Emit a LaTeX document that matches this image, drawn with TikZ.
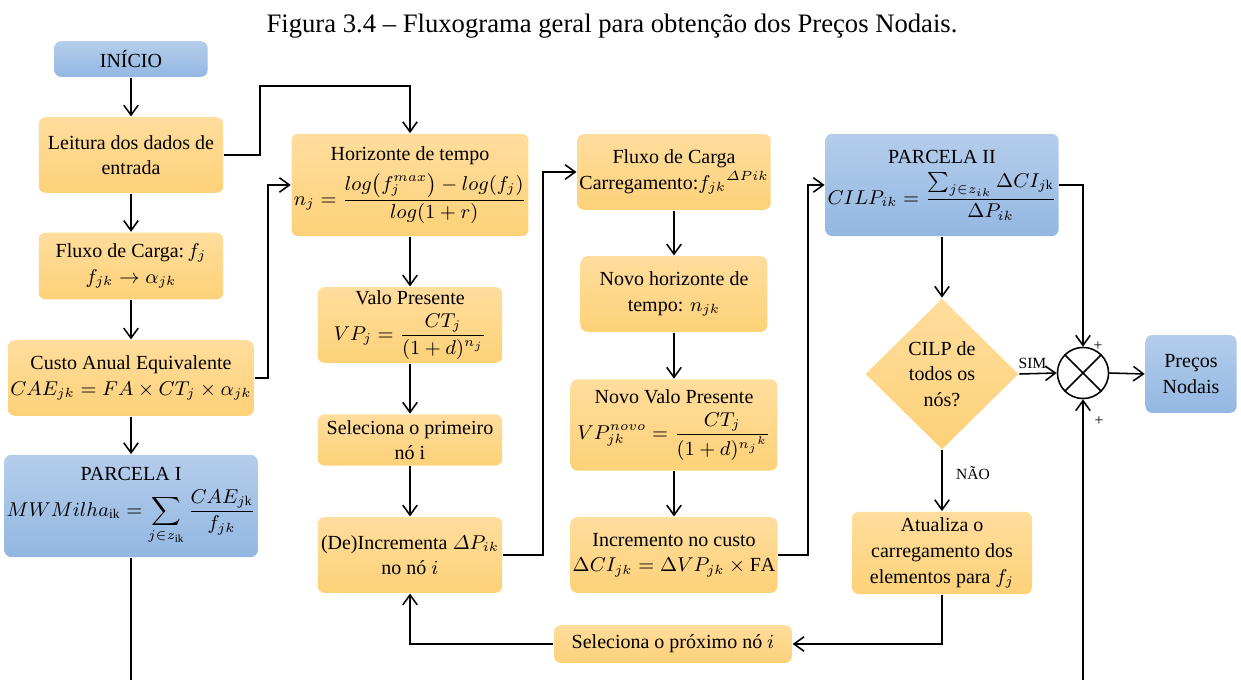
\documentclass[tikz,border=0pt]{standalone}
\usepackage{amsmath}
\usepackage{fontspec}
\setmainfont{Liberation Serif}
\usetikzlibrary{arrows.meta,shapes.geometric}
\definecolor{goldTop}{RGB}{255,221,157}
\definecolor{goldBot}{RGB}{253,209,120}
\definecolor{blueTop}{RGB}{181,205,235}
\definecolor{blueBot}{RGB}{147,183,226}

\begin{document}
\begin{tikzpicture}[x=0.45pt,y=-0.45pt,line width=0.7pt,
    arr/.style={-{Straight Barb[length=4.5pt,width=6.5pt]}},
    goldbox/.style={rounded corners=3pt,top color=goldTop,bottom color=goldBot,
        align=center,inner sep=1pt,font=\fontsize{9}{11.5}\selectfont},
    bluebox/.style={goldbox,top color=blueTop,bottom color=blueBot},
    decision/.style={diamond,shape aspect=1,inner sep=0pt,top color=goldTop,
        bottom color=goldBot,align=center,font=\fontsize{9}{11.5}\selectfont},
    tiny/.style={font=\fontsize{7}{8}\selectfont,inner sep=1pt}]

    \useasboundingbox (0,0) rectangle (1241,680);

    \node (title) at (612,26) {\fontsize{12}{14}\selectfont Figura 3.4 – Fluxograma geral para obtenção dos Preços Nodais.};

    % first column
    \node[bluebox,minimum width=69pt,minimum height=16pt] (start) at (131,59) {INÍCIO};
    \node[goldbox,minimum width=83pt,minimum height=34pt] (read) at (131,155) {Leitura dos dados de\\entrada};
    \node[goldbox,minimum width=83pt,minimum height=30pt] (flow1) at (131,266) {Fluxo de Carga:\,$f_j$\\$f_{jk}\rightarrow\alpha_{jk}$};
    \node[goldbox,minimum width=97pt,minimum height=34pt] (cae) at (131,378) {Custo Anual Equivalente\\$CAE_{jk}=FA\times CT_j\times\alpha_{jk}$};
    \node[bluebox,minimum width=110pt,minimum height=46pt] (part1) at (131,506) {PARCELA I\\[3pt]$MWMilha_{\mathrm{ik}}=\displaystyle\sum_{j\in z_{\mathrm{ik}}}\frac{CAE_{j\mathrm{k}}}{f_{jk}}$};

    % second column
    \node[goldbox,minimum width=104pt,minimum height=46pt] (horizon) at (410,185) {Horizonte de tempo\\[3pt]$n_j=\dfrac{log\bigl(f_j^{max}\bigr)-log(f_j)}{log(1+r)}$};
    \node[goldbox,minimum width=83pt,minimum height=34pt] (vp) at (410,325) {Valo Presente\\[3pt]$VP_j=\dfrac{CT_j}{(1+d)^{n_j}}$};
    \node[goldbox,minimum width=83pt,minimum height=23pt] (sel1) at (410,440) {Seleciona o primeiro\\nó i};
    \node[goldbox,minimum width=83pt,minimum height=34pt] (incr) at (410,555) {(De)Incrementa $\varDelta P_{ik}$\\no nó $i$};

    % third column
    \node[goldbox,minimum width=84pt,minimum height=34pt] (flow2) at (674,172) {Fluxo de Carga\\Carregamento:${f_{jk}}^{\varDelta Pik}$};
    \node[goldbox,minimum width=84pt,minimum height=34pt] (horizon2) at (674,294) {Novo horizonte de\\tempo: $n_{jk}$};
    \node[goldbox,minimum width=93pt,minimum height=41pt] (vp2) at (674,425) {Novo Valo Presente\\[3pt]$VP_{jk}^{novo}=\dfrac{CT_j}{(1+d)^{n_j{}^k}}$};
    \node[goldbox,minimum width=93pt,minimum height=34pt] (cost) at (674,555) {Incremento no custo\\$\Delta CI_{jk}=\Delta VP_{jk}\times\mathrm{FA}$};
    \node[goldbox,minimum width=107pt,minimum height=17pt] (sel2) at (673,644) {Seleciona o próximo nó $i$};

    % fourth column
    \node[bluebox,minimum width=93pt,minimum height=46pt] (part2) at (942,185) {PARCELA II\\[3pt]$CILP_{ik}=\dfrac{\sum_{j\in z_{ik}}\Delta CI_{j\mathrm{k}}}{\Delta P_{ik}}$};
    \node[decision,minimum width=69pt,minimum height=68pt] (check) at (942,374) {CILP de\\todos os\\nós?};
    \node[goldbox,minimum width=81pt,minimum height=37pt] (update) at (942,553) {Atualiza o\\carregamento dos\\elementos para $f_j$};
    \node[circle,draw,fill=white,minimum size=23pt,inner sep=0pt] (sum) at (1083,373) {};
    \node[bluebox,minimum width=41pt,minimum height=35pt] (prices) at (1191,374) {Preços\\Nodais};
    \node[tiny] (plus1) at (1098,346) {+};
    \node[tiny] (plus2) at (1099,421) {+};

    \coordinate (bend1) at (260,86);
    \coordinate (bend2) at (268,185);
    \coordinate (bend3) at (543,172);
    \coordinate (bend4) at (808,185);
    \coordinate (bot1) at (131,680);
    \coordinate (bot2) at (1083,680);

    \draw (sum.north west) -- (sum.south east) (sum.north east) -- (sum.south west);

    \draw[arr] (start) -- (read);
    \draw[arr] (read) -- (flow1);
    \draw[arr] (flow1) -- (cae);
    \draw[arr] (cae) -- (part1);
    \draw (part1) -- (bot1);
    \draw[arr] (read.east) -| (bend1) -| (horizon.north);
    \draw[arr] (cae.east) -| (bend2) -- (horizon.west);
    \draw[arr] (horizon) -- (vp);
    \draw[arr] (vp) -- (sel1);
    \draw[arr] (sel1) -- (incr);
    \draw[arr] (incr.east) -| (bend3) -- (flow2.west);
    \draw[arr] (flow2) -- (horizon2);
    \draw[arr] (horizon2) -- (vp2);
    \draw[arr] (vp2) -- (cost);
    \draw[arr] (cost.east) -| (bend4) -- (part2.west);
    \draw[arr] (part2) -- (check);
    \draw[arr] (check.east) -- (sum.west) node[pos=0.35,above=1pt,tiny] {SIM};
    \draw[arr] (check.south) -- (update.north) node[pos=0.37,right=5pt,tiny] {NÃO};
    \draw[arr] (part2.east) -| (sum.north);
    \draw[arr] (bot2) -- (sum.south);
    \draw[arr] (sum.east) -- (prices.west);
    \draw[arr] (update.south) |- (sel2.east);
    \draw[arr] (sel2.west) -| (incr.south);

\end{tikzpicture}
\end{document}
